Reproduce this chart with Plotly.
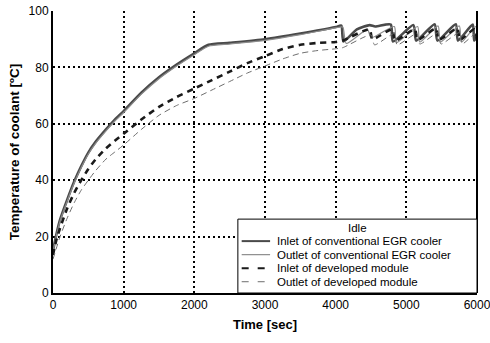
import plotly.graph_objects as go

# Inlet of conventional EGR cooler
t_in_conv = [0, 50, 100, 200, 300, 400, 500, 600, 750, 875, 1000, 1250, 1500, 1750, 2000, 2200, 2500, 3000, 3500, 4000, 4080,
             4110, 4300, 4480, 4560, 4780, 4810, 5100, 5140, 5400, 5440, 5700, 5730, 5940, 5960, 6000]
v_in_conv = [15, 21, 26, 33, 39.5, 45, 49.8, 53.5, 58, 61.5, 64.5, 71, 76.5, 81, 85, 88, 88.7, 90, 92, 94.3, 94.8,
             89.2, 93.5, 95, 94.5, 95.2, 89.2, 95, 89.5, 95.3, 89.5, 95.3, 89.5, 95.2, 89.5, 91]

# Outlet of conventional EGR cooler
t_out_conv = [0, 50, 100, 200, 300, 400, 500, 600, 750, 875, 1000, 1250, 1500, 1750, 2000, 2200, 2500, 3000, 3500, 4000, 4100,
              4150, 4450, 4500, 4830, 4860, 5160, 5190, 5450, 5480, 5750, 5780, 5980, 6000]
v_out_conv = [14.5, 20.5, 25.5, 32.5, 39, 44.5, 49.3, 53, 57.5, 61, 64, 70.5, 76, 80.5, 84.5, 87.5, 88.3, 89.6, 91.6, 94, 94.3,
              88.5, 93.5, 90.5, 94.5, 88.8, 94.5, 89, 94.7, 89, 94.7, 89, 94.5, 90]

# Inlet of developed module
t_in_dev = [0, 50, 100, 200, 300, 400, 500, 600, 750, 875, 1000, 1250, 1500, 1750, 2000, 2250, 2500, 2750, 3000, 3250, 3500,
            3750, 4000, 4100, 4480, 4520, 4800, 4840, 5120, 5160, 5420, 5460, 5720, 5760, 5960, 6000]
v_in_dev = [13.5, 19, 23, 30, 35.5, 40, 44, 47.3, 51.3, 54, 56.5, 61.5, 66, 69.5, 72.5, 75.5, 78.5, 81.5, 84, 86.5, 88,
            88.7, 89, 89.5, 93.5, 90, 93.5, 89.5, 93.5, 89.8, 93.8, 89.8, 93.8, 89.8, 93.5, 90]

# Outlet of developed module
t_out_dev = [0, 100, 200, 300, 400, 500, 600, 750, 875, 1000, 1250, 1500, 1750, 2000, 2250, 2500, 2750, 3000, 3250, 3500,
             3750, 4000, 4100, 4500, 4550, 4830, 4870, 5150, 5190, 5450, 5490, 5750, 5790, 5980, 6000]
v_out_dev = [12, 20, 26.5, 32, 36.5, 40, 43.3, 47.5, 50, 52.5, 58, 63, 66.5, 69, 72, 75, 78, 80.5, 83, 85,
             86, 86.6, 87, 91.5, 88, 92, 88, 92, 88.3, 92.3, 88.3, 92.3, 88.3, 92, 89]

x_ticks = [0, 1000, 2000, 3000, 4000, 5000, 6000]
y_ticks = [0, 20, 40, 60, 80, 100]

series_names = ["Inlet of conventional EGR cooler", "Outlet of conventional EGR cooler",
                "Inlet of developed module", "Outlet of developed module"]
legend_title = "Idle"

FONT = "Arial, Liberation Sans, sans-serif"

styles = [dict(color="#4a4a4a", width=2.6),
          dict(color="#8c8c8c", width=1.2),
          dict(color="#1a1a1a", width=2.6, dash="6px,5px"),
          dict(color="#6e6e6e", width=1, dash="6px,4px")]

fig = go.Figure()
for (tx, vy), name, st in zip([(t_in_conv, v_in_conv), (t_out_conv, v_out_conv),
                               (t_in_dev, v_in_dev), (t_out_dev, v_out_dev)], series_names, styles):
    fig.add_trace(go.Scatter(x=tx, y=vy, mode="lines", name=name, line=dict(shape="spline", smoothing=0.6, **st),
                             showlegend=False))

axis_common = dict(showline=True, linecolor="black", linewidth=2, mirror=False,
                   showgrid=True, gridcolor="black", gridwidth=1.5, griddash="2px,3px",
                   zeroline=False, ticks="", ticklabeloverflow="allow", automargin=False,
                   tickfont=dict(family=FONT, size=12, color="black"))

fig.update_layout(
    width=490, height=343,
    margin=dict(l=53, r=13, t=11, b=50),
    paper_bgcolor="white", plot_bgcolor="white",
    font=dict(family=FONT, color="black"),
    xaxis=dict(range=[0, 6000], tickvals=x_ticks, ticktext=[str(v) for v in x_ticks],
               title=dict(text="<b>Time [sec]</b>", font=dict(size=13, family=FONT), standoff=8),
               **axis_common),
    yaxis=dict(range=[0, 100], tickvals=y_ticks, ticktext=[str(v) for v in y_ticks],
               title=dict(text="<b>Temperature of coolant [ºC]</b>", font=dict(size=13.5, family=FONT), standoff=6),
               **axis_common),
    showlegend=False,
)
# right border line
fig.add_shape(type="line", xref="paper", yref="paper", x0=1, x1=1, y0=0, y1=1,
              line=dict(color="black", width=2))

# manual legend box (paper coordinates)
lx0, lx1, ly0, ly1 = 0.436, 1.0, 0.0, 0.262
fig.add_shape(type="rect", xref="paper", yref="paper", x0=lx0, x1=lx1, y0=ly0, y1=ly1,
              fillcolor="white", line=dict(color="black", width=1), layer="above")
fig.add_annotation(xref="paper", yref="paper", x=(lx0 + lx1) / 2, y=0.232, text=legend_title,
                   showarrow=False, font=dict(size=11.5, family=FONT, color="black"),
                   xanchor="center", yanchor="middle", borderpad=0)
item_y = [0.184, 0.136, 0.088, 0.040]
for yy, name, st in zip(item_y, series_names, styles):
    sample = dict(color=st["color"], width=min(st["width"], 2))
    if "dash" in st:
        sample["dash"] = "7px,9px"
    fig.add_shape(type="line", xref="paper", yref="paper", x0=0.445, x1=0.512, y0=yy, y1=yy,
                  line=sample, layer="above")
    fig.add_annotation(xref="paper", yref="paper", x=0.526, y=yy, text=name, showarrow=False,
                       font=dict(size=11.5, family=FONT, color="black"), xanchor="left", yanchor="middle",
                       borderpad=0)

fig.write_html("out.html")
